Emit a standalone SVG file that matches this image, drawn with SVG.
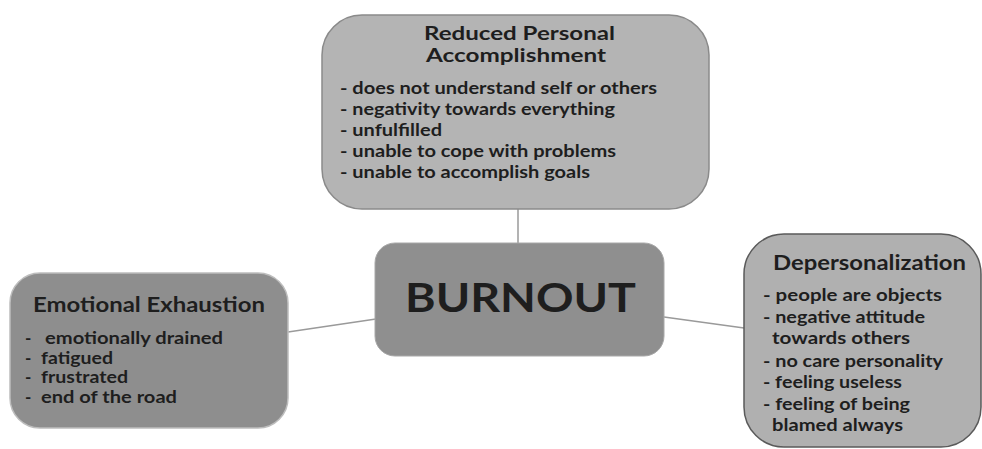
<svg xmlns="http://www.w3.org/2000/svg" width="982" height="449" viewBox="0 0 982 449">
<style>
text{font-family:Lato,"Open Sans","Liberation Sans",sans-serif;font-weight:bold;fill:#1e1e1e}
.title{font-size:21px}
.ttl2{font-size:19px}
.item{font-size:17px}
.big{font-size:40px}
.conn{stroke:#9a9a9a;stroke-width:1.5;fill:none}
</style>
<rect width="982" height="449" fill="#ffffff"/>
<g id="connectors">
<line class="conn" x1="518" y1="209" x2="518" y2="244"/>
<line class="conn" x1="288" y1="332" x2="376" y2="319"/>
<line class="conn" x1="664" y1="317" x2="744" y2="328"/>
</g>
<g id="reduced-personal-accomplishment">
<rect x="322" y="15" width="387" height="194" rx="40" ry="40" fill="#b4b4b4" stroke="#8a8a8a" stroke-width="1.5"/>
<text class="ttl2" x="424" y="40" textLength="191" lengthAdjust="spacingAndGlyphs">Reduced Personal</text>
<text class="ttl2" x="426" y="62" textLength="180" lengthAdjust="spacingAndGlyphs">Accomplishment</text>
<text class="item" x="340" y="94" textLength="317" lengthAdjust="spacingAndGlyphs">- does not understand self or others</text>
<text class="item" x="340" y="115" textLength="275" lengthAdjust="spacingAndGlyphs">- negativity towards everything</text>
<text class="item" x="340" y="136" textLength="102" lengthAdjust="spacingAndGlyphs">- unfulfilled</text>
<text class="item" x="340" y="157" textLength="276" lengthAdjust="spacingAndGlyphs">- unable to cope with problems</text>
<text class="item" x="340" y="178" textLength="250" lengthAdjust="spacingAndGlyphs">- unable to accomplish goals</text>
</g>
<g id="burnout">
<rect x="375" y="243" width="289" height="113" rx="20" ry="20" fill="#8f8f8f" stroke="#a8a8a8" stroke-width="1"/>
<text class="big" x="405" y="312" textLength="231" lengthAdjust="spacingAndGlyphs">BURNOUT</text>
</g>
<g id="emotional-exhaustion">
<rect x="10" y="273" width="278" height="155" rx="30" ry="30" fill="#8e8e8e" stroke="#bdbdbd" stroke-width="1.5"/>
<text class="title" x="33" y="312" textLength="232" lengthAdjust="spacingAndGlyphs">Emotional Exhaustion</text>
<text class="item" y="344"><tspan x="25">-</tspan><tspan x="45" textLength="178" lengthAdjust="spacingAndGlyphs">emotionally drained</tspan></text>
<text class="item" y="364"><tspan x="25">-</tspan><tspan x="41" textLength="72" lengthAdjust="spacingAndGlyphs">fatigued</tspan></text>
<text class="item" y="383"><tspan x="25">-</tspan><tspan x="41" textLength="87" lengthAdjust="spacingAndGlyphs">frustrated</tspan></text>
<text class="item" y="403"><tspan x="25">-</tspan><tspan x="41" textLength="136" lengthAdjust="spacingAndGlyphs">end of the road</tspan></text>
</g>
<g id="depersonalization">
<rect x="744" y="234" width="237" height="213" rx="40" ry="40" fill="#b0b0b0" stroke="#5a5a5a" stroke-width="1.5"/>
<text class="title" x="773" y="270" textLength="193" lengthAdjust="spacingAndGlyphs">Depersonalization</text>
<text class="item" x="763" y="301" textLength="179" lengthAdjust="spacingAndGlyphs">- people are  objects</text>
<text class="item" x="763" y="323" textLength="162" lengthAdjust="spacingAndGlyphs">- negative attitude</text>
<text class="item" x="772" y="344" textLength="138" lengthAdjust="spacingAndGlyphs">towards  others</text>
<text class="item" x="763" y="367" textLength="180" lengthAdjust="spacingAndGlyphs">- no care personality</text>
<text class="item" x="763" y="388" textLength="139" lengthAdjust="spacingAndGlyphs">- feeling useless</text>
<text class="item" x="763" y="410" textLength="147" lengthAdjust="spacingAndGlyphs">- feeling of being</text>
<text class="item" x="772" y="431" textLength="131" lengthAdjust="spacingAndGlyphs">blamed always</text>
</g>
</svg>
